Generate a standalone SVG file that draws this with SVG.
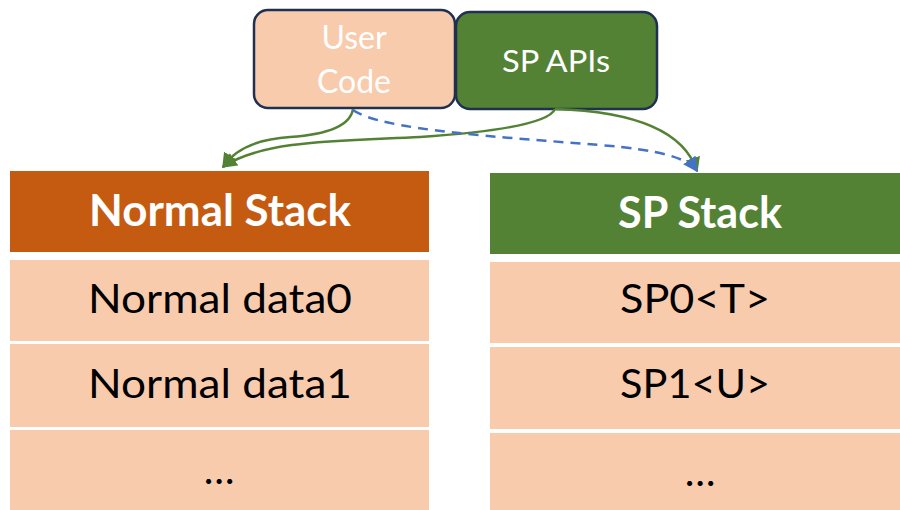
<svg xmlns="http://www.w3.org/2000/svg" width="900" height="510" viewBox="0 0 900 510">
  <style>
    .lbl { font-family: Lato, "Open Sans", "Liberation Sans", sans-serif; text-anchor: middle; }
    .hdr { font-weight: bold; font-size: 44px; fill: #ffffff; }
    .row { font-size: 41px; fill: #000000; }
    .cell { fill: #F8CBAD; }
    .top { stroke: #1F3050; stroke-width: 2.5; }
    .green { fill: none; stroke: #548235; stroke-width: 2.5; }
    .blue { fill: none; stroke: #4472C4; stroke-width: 2.5; stroke-dasharray: 10 7; }
  </style>
  <defs>
    <marker id="arrGreen" viewBox="0 0 10 10" refX="9" refY="5" markerWidth="6" markerHeight="6" orient="auto" markerUnits="strokeWidth">
      <path d="M0,0 L10,5 L0,10 Z" fill="#548235"/>
    </marker>
    <marker id="arrBlue" viewBox="0 0 10 10" refX="9" refY="5" markerWidth="6" markerHeight="6" orient="auto" markerUnits="strokeWidth">
      <path d="M0,0 L10,5 L0,10 Z" fill="#4472C4"/>
    </marker>
  </defs>
  <rect width="900" height="510" fill="#ffffff"/>

  <!-- caller boxes -->
  <g id="user-code">
    <rect class="top" x="254" y="10" width="201" height="98" rx="14" fill="#F8CBAD"/>
    <text class="lbl" x="354" y="49" font-size="32" fill="#ffffff">User</text>
    <text class="lbl" x="354" y="93" font-size="32" fill="#ffffff">Code</text>
  </g>
  <g id="sp-apis">
    <rect class="top" x="456" y="12" width="201" height="97" rx="14" fill="#548235"/>
    <text class="lbl" x="556" y="72" font-size="30" fill="#ffffff" textLength="108" lengthAdjust="spacingAndGlyphs">SP APIs</text>
  </g>

  <!-- normal stack -->
  <g id="normal-stack">
    <rect x="10" y="171" width="419" height="81" fill="#C55A11"/>
    <text class="lbl hdr" x="220" y="226" textLength="262" lengthAdjust="spacingAndGlyphs">Normal Stack</text>
  </g>
  <g id="normal-data0">
    <rect class="cell" x="10" y="260" width="419" height="81"/>
    <text class="lbl row" x="220" y="313" textLength="264" lengthAdjust="spacingAndGlyphs">Normal data0</text>
  </g>
  <g id="normal-data1">
    <rect class="cell" x="10" y="344" width="419" height="83"/>
    <text class="lbl row" x="220" y="398" textLength="264" lengthAdjust="spacingAndGlyphs">Normal data1</text>
  </g>
  <g id="normal-more">
    <rect class="cell" x="10" y="430" width="419" height="80"/>
    <text class="lbl row" x="219" y="484">…</text>
  </g>

  <!-- sp stack -->
  <g id="sp-stack">
    <rect x="490" y="173" width="410" height="81" fill="#548235"/>
    <text class="lbl hdr" x="700" y="228" textLength="164" lengthAdjust="spacingAndGlyphs">SP Stack</text>
  </g>
  <g id="sp0">
    <rect class="cell" x="490" y="262" width="410" height="81"/>
    <text class="lbl row" x="695" y="313" textLength="150" lengthAdjust="spacingAndGlyphs">SP0&lt;T&gt;</text>
  </g>
  <g id="sp1">
    <rect class="cell" x="490" y="347" width="410" height="82"/>
    <text class="lbl row" x="695" y="398" textLength="150" lengthAdjust="spacingAndGlyphs">SP1&lt;U&gt;</text>
  </g>
  <g id="sp-more">
    <rect class="cell" x="490" y="433" width="410" height="77"/>
    <text class="lbl row" x="700" y="486">…</text>
  </g>

  <!-- connectors -->
  <g id="connectors">
    <path class="green" d="M353,109 C350,128 320,135 290,137 C260,139 236,147 223,167" marker-end="url(#arrGreen)"/>
    <path class="green" d="M555,109 C548,125 480,133 420,137 C340,141 262,140 223,167" marker-end="url(#arrGreen)"/>
    <path class="green" d="M555,109 C620,111 682,125 697,171" marker-end="url(#arrGreen)"/>
    <path class="blue" d="M353,110 C380,130 500,137 600,145 C660,150 688,158 697,171" marker-end="url(#arrBlue)"/>
  </g>
</svg>
